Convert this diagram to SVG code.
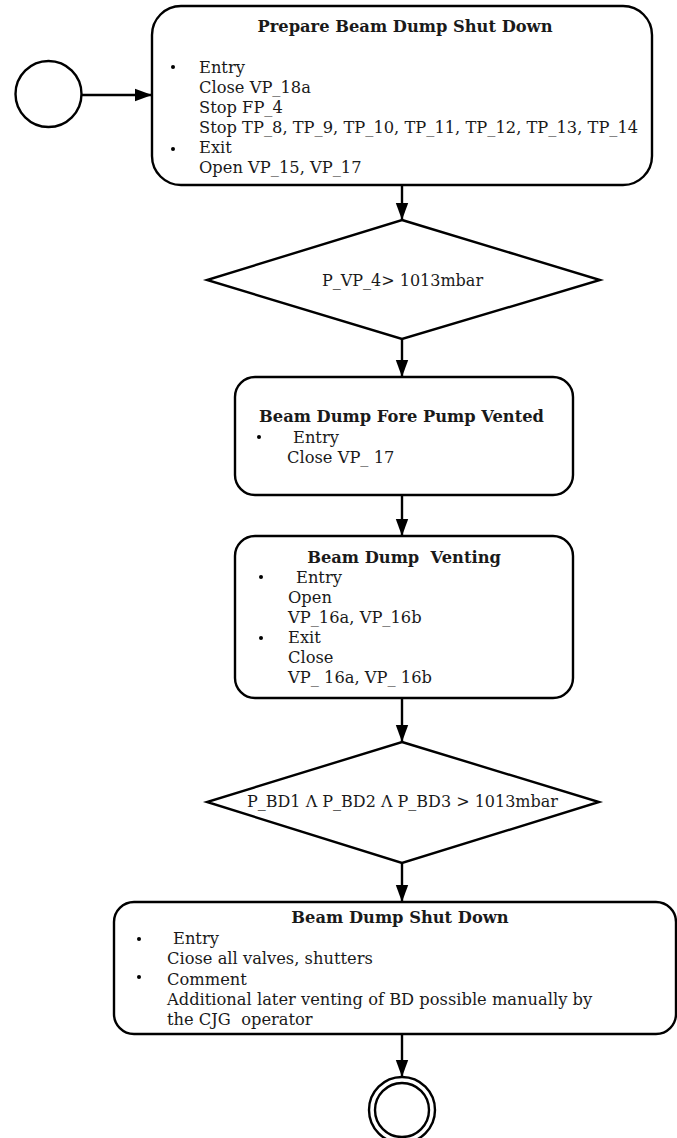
<svg xmlns="http://www.w3.org/2000/svg" width="677" height="1138" viewBox="0 0 677 1138">
<style>
.shape{fill:#fff;stroke:#000;stroke-width:2.4}
.t{font-family:"DejaVu Serif","Liberation Serif",serif;font-size:16.3px;fill:#1a1a1a}
.d{font-size:16px}
.b{font-weight:bold;text-anchor:middle}
.m{text-anchor:middle}
.conn{stroke:#000;stroke-width:2.4;fill:none}
</style>
<defs>
<marker id="arr" markerUnits="userSpaceOnUse" markerWidth="18" markerHeight="14" refX="17" refY="7" orient="auto">
<path d="M0,0.8 L17,7 L0,13.2 Z" fill="#000"/>
</marker>
</defs>
<g id="connectors">
<line class="conn" x1="82" y1="95" x2="152" y2="95" marker-end="url(#arr)"/>
<line class="conn" x1="402" y1="185" x2="402" y2="220" marker-end="url(#arr)"/>
<line class="conn" x1="402" y1="339" x2="402" y2="377" marker-end="url(#arr)"/>
<line class="conn" x1="402" y1="495" x2="402" y2="536" marker-end="url(#arr)"/>
<line class="conn" x1="402" y1="698" x2="402" y2="742" marker-end="url(#arr)"/>
<line class="conn" x1="402" y1="863" x2="402" y2="902" marker-end="url(#arr)"/>
<line class="conn" x1="402" y1="1034" x2="402" y2="1077" marker-end="url(#arr)"/>
</g>
<g id="start">
<circle class="shape" cx="48.5" cy="94" r="33"/>
</g>
<g id="prepare">
<rect class="shape" x="152" y="6" width="500" height="179" rx="29" ry="29"/>
<text class="t b" x="405" y="32">Prepare Beam Dump Shut Down</text>
<circle cx="173" cy="67" r="2" fill="#000"/>
<circle cx="173" cy="149" r="2" fill="#000"/>
<text class="t" x="199" y="73">Entry</text>
<text class="t" x="199" y="93">Close VP_18a</text>
<text class="t" x="199" y="113">Stop FP_4</text>
<text class="t" x="199" y="133">Stop TP_8, TP_9, TP_10, TP_11, TP_12, TP_13, TP_14</text>
<text class="t" x="199" y="153">Exit</text>
<text class="t" x="199" y="173">Open VP_15, VP_17</text>
</g>
<g id="decision1">
<polygon class="shape" points="402,220 600,280 402,339 207,280"/>
<text class="t d m" x="402.5" y="286">P_VP_4&gt; 1013mbar</text>
</g>
<g id="forepump">
<rect class="shape" x="235" y="377" width="338" height="118" rx="20" ry="20"/>
<text class="t b" x="401.5" y="422">Beam Dump Fore Pump Vented</text>
<circle cx="259" cy="437" r="2" fill="#000"/>
<text class="t" x="293" y="443">Entry</text>
<text class="t" x="287" y="463">Close VP_ 17</text>
</g>
<g id="venting">
<rect class="shape" x="235" y="536" width="338" height="162" rx="20" ry="20"/>
<text class="t b" x="404" y="563" xml:space="preserve">Beam Dump  Venting</text>
<circle cx="261" cy="577" r="2" fill="#000"/>
<circle cx="261" cy="638" r="2" fill="#000"/>
<text class="t" x="296" y="583">Entry</text>
<text class="t" x="288" y="603">Open</text>
<text class="t" x="288" y="623">VP_16a, VP_16b</text>
<text class="t" x="288" y="643">Exit</text>
<text class="t" x="288" y="663">Close</text>
<text class="t" x="288" y="683">VP_ 16a, VP_ 16b</text>
</g>
<g id="decision2">
<polygon class="shape" points="402,742 599,802 402,863 207,802"/>
<text class="t d m" x="402.5" y="807">P_BD1 Λ P_BD2 Λ P_BD3 &gt; 1013mbar</text>
</g>
<g id="shutdown">
<rect class="shape" x="114" y="902" width="562" height="132" rx="20" ry="20"/>
<text class="t b" x="400" y="923">Beam Dump Shut Down</text>
<circle cx="139" cy="939" r="2" fill="#000"/>
<circle cx="139" cy="977" r="2" fill="#000"/>
<text class="t" x="173" y="944">Entry</text>
<text class="t" x="167" y="964">Ciose all valves, shutters</text>
<text class="t" x="167" y="985">Comment</text>
<text class="t" x="167" y="1005">Additional later venting of BD possible manually by</text>
<text class="t" x="167" y="1025" xml:space="preserve">the CJG  operator</text>
</g>
<g id="end">
<circle class="shape" cx="402" cy="1110" r="33"/>
<circle class="shape" cx="402" cy="1110" r="27"/>
</g>
</svg>
